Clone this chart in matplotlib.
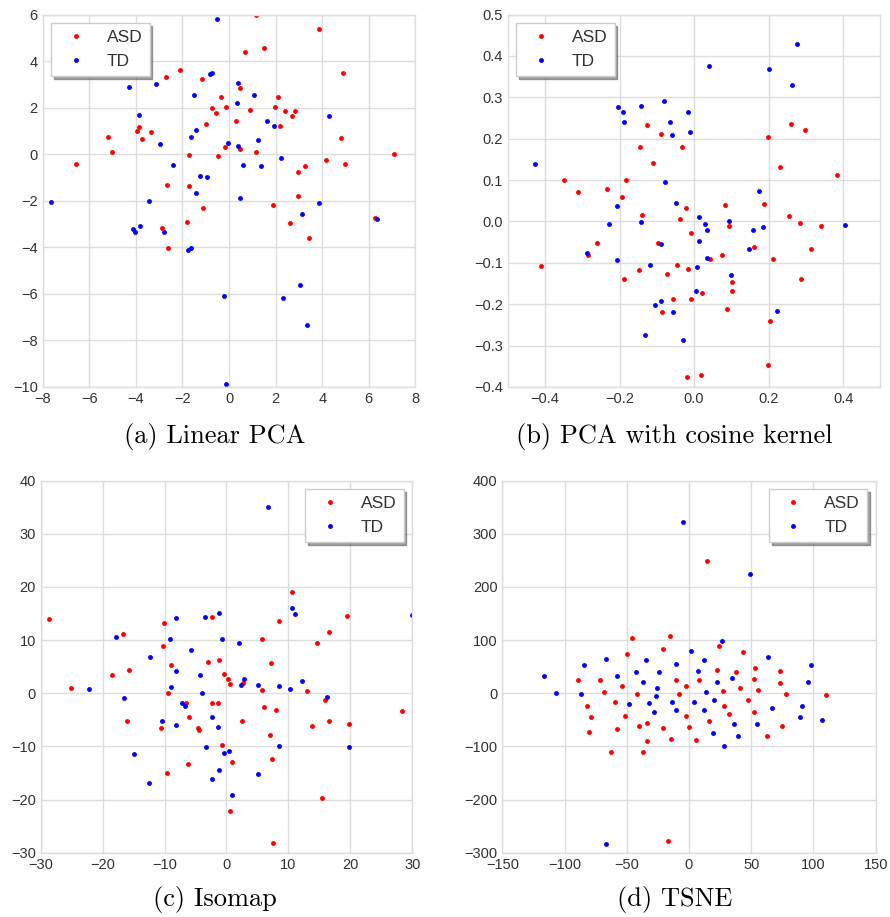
import numpy as np
import matplotlib
matplotlib.use('Agg')
import matplotlib.pyplot as plt

# (a) Linear PCA
pca_asd = [(1.16, 5.97), (3.85, 5.37), (0.69, 4.39), (1.50, 4.56), (4.89, 3.50), (-2.09, 3.64),
           (-2.69, 3.30), (-1.15, 3.24), (0.49, 2.84), (-0.34, 2.44), (2.12, 2.44), (-0.72, 1.98),
           (-0.11, 2.01), (0.92, 1.92), (1.98, 2.01), (2.42, 1.87), (2.85, 1.84), (2.71, 1.64),
           (-0.54, 1.75), (0.29, 1.41), (2.19, 1.23), (-1.00, 1.29), (-3.88, 1.18), (-3.97, 0.98),
           (-3.37, 0.95), (-3.74, 0.66), (-5.21, 0.72), (-5.01, 0.11), (4.80, 0.69), (-0.17, 0.29),
           (0.46, 0.24), (1.17, 0.11), (-1.72, -0.03), (-0.49, -0.06), (7.08, 0.01), (-6.55, -0.40),
           (4.18, -0.26), (4.97, -0.43), (3.28, -0.50), (2.95, -0.77), (-2.68, -1.32), (-1.70, -1.35),
           (2.98, -1.79), (1.88, -2.16), (-1.13, -2.30), (6.25, -2.73), (-1.79, -2.90), (2.61, -2.96),
           (-2.88, -3.19), (3.42, -3.59), (-2.62, -4.02)]
pca_td = [(-0.52, 5.82), (-4.31, 2.90), (-3.14, 3.01), (-1.52, 2.55), (-0.83, 3.46), (-0.74, 3.50),
          (0.40, 3.04), (1.07, 2.53), (0.34, 2.18), (-3.85, 1.69), (1.65, 1.41), (1.93, 1.23),
          (4.30, 1.64), (-1.42, 1.05), (-1.65, 0.75), (-2.98, 0.43), (-0.06, 0.49), (0.37, 0.37),
          (1.25, 0.60), (2.22, -0.16), (-2.42, -0.46), (0.60, -0.46), (1.38, -0.49), (-1.26, -0.93),
          (-0.95, -0.96), (-1.43, -1.68), (0.46, -1.87), (-7.65, -2.04), (-3.45, -2.01), (3.85, -2.10),
          (3.14, -2.56), (6.36, -2.79), (-3.83, -3.07), (-4.14, -3.22), (-4.05, -3.36), (-2.81, -3.33),
          (-1.78, -4.13), (-1.63, -4.02), (3.05, -5.62), (-0.21, -6.09), (2.31, -6.16), (3.34, -7.35),
          (-0.11, -9.87)]

# (b) PCA with cosine kernel
kpca_asd = [(-0.125, 0.233), (-0.088, 0.211), (-0.145, 0.179), (-0.032, 0.179), (-0.111, 0.142),
            (-0.349, 0.100), (-0.183, 0.100), (-0.312, 0.072), (-0.233, 0.078), (-0.193, 0.059),
            (0.198, 0.203), (0.260, 0.235), (0.298, 0.220), (0.230, 0.131), (0.383, 0.113),
            (-0.021, 0.032), (-0.038, 0.005), (0.083, 0.040), (0.189, 0.043), (0.255, 0.014),
            (0.284, -0.003), (0.341, -0.011), (-0.139, 0.016), (0.094, -0.010), (-0.260, -0.051),
            (-0.009, -0.027), (-0.097, -0.051), (-0.285, -0.080), (0.313, -0.066), (0.160, -0.061),
            (0.076, -0.082), (0.042, -0.090), (0.212, -0.090), (-0.410, -0.108), (-0.147, -0.117),
            (-0.047, -0.106), (-0.015, -0.114), (-0.188, -0.138), (-0.072, -0.126), (0.101, -0.146),
            (0.287, -0.138), (0.101, -0.169), (0.020, -0.174), (-0.057, -0.187), (-0.007, -0.187),
            (-0.085, -0.219), (0.089, -0.211), (0.203, -0.240), (0.198, -0.346), (-0.018, -0.377),
            (0.018, -0.371)]
kpca_td = [(-0.428, 0.138), (-0.204, 0.277), (-0.192, 0.264), (-0.188, 0.241), (-0.143, 0.280),
           (-0.082, 0.290), (-0.065, 0.240), (-0.060, 0.209), (-0.015, 0.265), (-0.010, 0.216),
           (0.041, 0.376), (-0.079, 0.095), (0.201, 0.368), (0.276, 0.428), (0.264, 0.331),
           (0.173, 0.073), (-0.208, 0.037), (-0.049, 0.045), (-0.227, -0.006), (-0.143, -0.002),
           (0.014, 0.010), (0.029, -0.005), (0.093, 0.002), (0.035, -0.021), (0.158, -0.021),
           (0.185, -0.014), (0.404, -0.008), (-0.088, -0.055), (0.014, -0.048), (0.148, -0.066),
           (-0.288, -0.077), (0.035, -0.088), (-0.206, -0.092), (-0.118, -0.106), (0.007, -0.111),
           (0.098, -0.130), (0.005, -0.167), (-0.088, -0.193), (-0.106, -0.201), (-0.057, -0.219),
           (0.223, -0.216), (-0.132, -0.274), (-0.029, -0.286)]

# (c) Isomap
iso_asd = [(-28.58, 14.01), (10.60, 19.10), (-2.26, 14.26), (-10.06, 13.26), (8.50, 13.51),
           (19.43, 14.58), (-16.74, 11.12), (16.52, 11.50), (14.64, 9.49), (5.81, 10.24),
           (-10.23, 8.86), (-8.93, 5.28), (-2.91, 5.79), (-1.18, 6.29), (7.21, 5.66), (-15.77, 4.28),
           (-18.46, 3.40), (-25.03, 1.01), (-0.43, 3.65), (0.22, 2.77), (0.54, 1.76), (2.69, 2.01),
           (5.71, 0.63), (13.08, 0.38), (-9.37, 0.13), (-6.46, -1.76), (-2.37, -1.89), (-1.40, -1.76),
           (15.98, -1.26), (6.03, -2.52), (8.07, -3.14), (28.36, -3.27), (-16.04, -5.16),
           (-6.03, -4.53), (2.58, -5.16), (16.63, -5.16), (13.83, -6.16), (19.86, -5.79),
           (-10.55, -6.54), (-4.63, -6.54), (-4.41, -6.92), (7.00, -7.92), (-0.65, -9.81),
           (7.37, -12.33), (0.86, -12.96), (-6.14, -13.21), (-9.63, -14.97), (15.45, -19.69),
           (0.54, -22.08), (7.48, -28.11)]
iso_td = [(6.67, 35.04), (10.66, 15.96), (11.03, 14.89), (30.03, 14.64), (-8.13, 14.07),
          (-3.50, 14.39), (-1.18, 15.02), (-17.81, 10.62), (-9.10, 10.24), (-0.65, 10.24),
          (2.05, 9.37), (-5.71, 8.11), (-12.27, 6.90), (-8.07, 4.15), (-4.20, 3.52), (2.91, 2.77),
          (2.37, 1.64), (5.17, 1.51), (8.50, 1.38), (10.23, 0.88), (12.22, 2.39), (-22.12, 0.75),
          (-8.93, 1.26), (-16.58, -0.88), (-3.98, 0.00), (16.20, -0.75), (-7.10, -1.76),
          (-6.67, -2.39), (-2.37, -4.53), (-10.33, -5.16), (-8.07, -6.04), (-1.29, -6.29),
          (-3.23, -10.06), (8.50, -9.94), (19.86, -10.06), (0.43, -10.82), (-0.32, -11.32),
          (-14.85, -11.45), (-1.18, -14.34), (5.06, -15.22), (-2.26, -16.10), (-12.43, -16.86),
          (0.86, -19.12)]

# (d) TSNE
tsne_asd = [(14.2, 249.4), (-15.3, 107.5), (-45.8, 103.8), (-50.0, 73.0), (-20.6, 82.5), (23.8, 88.8),
            (43.4, 77.5), (-89.2, 24.5), (-71.5, 24.5), (-68.3, 1.9), (-53.8, 14.4), (-41.5, -0.6),
            (-10.7, 25.7), (-8.0, -0.6), (-2.1, 14.4), (8.0, 24.5), (22.5, 44.6), (37.5, 39.5),
            (27.3, 4.4), (41.3, 9.4), (53.0, 48.3), (52.5, 27.0), (55.2, 6.9), (73.4, 42.1),
            (72.9, 19.5), (78.2, -1.9), (110.1, -3.1), (-81.7, -23.2), (-79.0, -44.6), (-80.6, -72.2),
            (-59.2, -16.9), (-51.7, -42.1), (-57.6, -67.2), (-39.9, -62.1), (-33.5, -55.9),
            (-34.0, -89.8), (-63.0, -111.1), (-36.7, -111.1), (-20.6, -65.9), (-14.2, -86.0),
            (-2.7, -43.3), (0.0, -63.4), (5.4, -87.3), (16.1, -52.1), (28.4, -24.5), (32.1, -38.3),
            (47.1, -11.9), (52.0, -34.5), (63.0, -81.0), (75.0, -60.9), (-17.1, -277.5)]
tsne_td = [(-4.6, 321.9), (48.8, 224.4), (26.8, 97.5), (1.3, 80.0), (-66.7, 63.6), (-34.3, 62.3),
           (11.8, 62.3), (63.2, 68.6), (-84.1, 53.4), (-10.7, 54.6), (98.0, 53.4), (-116.5, 32.0),
           (-106.9, 0.6), (-58.1, 33.3), (-42.6, 40.8), (-23.8, 40.8), (7.0, 42.1), (-37.0, 20.7),
           (22.5, 20.7), (34.3, 29.5), (95.9, 20.7), (-25.7, 9.4), (-87.1, -1.9), (-26.5, -4.4),
           (13.4, 3.1), (-47.9, -20.7), (-32.4, -18.2), (-13.7, -16.9), (3.8, -15.7), (20.4, -11.9),
           (-28.1, -35.8), (-10.2, -32.0), (12.3, -32.0), (66.4, -28.2), (91.1, -24.5), (89.5, -44.6),
           (106.9, -50.8), (35.9, -57.1), (54.4, -57.1), (19.3, -74.7), (39.6, -79.7), (28.4, -99.8),
           (-66.7, -283.7)]

captions = ['(a) Linear PCA', '(b) PCA with cosine kernel', '(c) Isomap', '(d) TSNE']
xlims = [(-8, 8), (-0.5, 0.5), (-30, 30), (-150, 150)]
ylims = [(-10, 6), (-0.4, 0.5), (-30, 40), (-300, 400)]
xticks = [np.arange(-8, 9, 2), np.arange(-0.4, 0.41, 0.2), np.arange(-30, 31, 10), np.arange(-150, 151, 50)]
yticks = [np.arange(-10, 7, 2), np.arange(-0.4, 0.51, 0.1), np.arange(-30, 41, 10), np.arange(-300, 401, 100)]
legend_loc = ['upper left', 'upper left', 'upper right', 'upper right']

plt.rcParams['font.family'] = ['Liberation Sans', 'DejaVu Sans']
plt.rcParams['axes.unicode_minus'] = True

grid_c = '#dddddd'
text_c = '#333333'

fig = plt.figure(figsize=(8.9, 9.17), dpi=100)
boxes = [(0.048, 0.578, 0.4187, 0.4061), (0.5705, 0.578, 0.4187, 0.4061),
         (0.0457, 0.070, 0.4175, 0.406), (0.5644, 0.070, 0.4195, 0.406)]
# caption centres in figure coords (each subfigure includes its tick labels)
cap_xy = [(0.241, 0.5245), (0.758, 0.5245), (0.241, 0.0195), (0.758, 0.0195)]

panels = [(pca_asd, pca_td), (kpca_asd, kpca_td), (iso_asd, iso_td), (tsne_asd, tsne_td)]

for i, (asd, td) in enumerate(panels):
    ax = fig.add_axes(boxes[i])
    asd = np.array(asd)
    td = np.array(td)
    ax.plot(asd[:, 0], asd[:, 1], 'o', color='r', ms=3.5, mew=0, label='ASD')
    ax.plot(td[:, 0], td[:, 1], 'o', color='b', ms=3.5, mew=0, label='TD')

    ax.set_xlim(*xlims[i])
    ax.set_ylim(*ylims[i])
    ax.set_xticks(xticks[i])
    ax.set_yticks(yticks[i])
    if i == 1:
        ax.set_xticklabels(['\u22120.4', '\u22120.2', '0.0', '0.2', '0.4'])
        ax.set_yticklabels(['\u22120.4', '\u22120.3', '\u22120.2', '\u22120.1', '0.0',
                            '0.1', '0.2', '0.3', '0.4', '0.5'])
    ax.grid(True, color=grid_c, linewidth=1.0)
    ax.set_axisbelow(True)
    for sp in ax.spines.values():
        sp.set_color(grid_c)
        sp.set_linewidth(1.0)
    ax.tick_params(length=0, pad=3.5, labelsize=10.5, labelcolor=text_c)

    leg = ax.legend(loc=legend_loc[i], numpoints=1, fontsize=12.5, shadow=True,
                    fancybox=False, framealpha=1.0, edgecolor='#cccccc')
    for t in leg.get_texts():
        t.set_color(text_c)

    fig.text(cap_xy[i][0], cap_xy[i][1], captions[i], ha='center', va='center',
             fontsize=19, family=['cmr10', 'DejaVu Serif'], color='black')

fig.savefig('out.png', dpi=100)
